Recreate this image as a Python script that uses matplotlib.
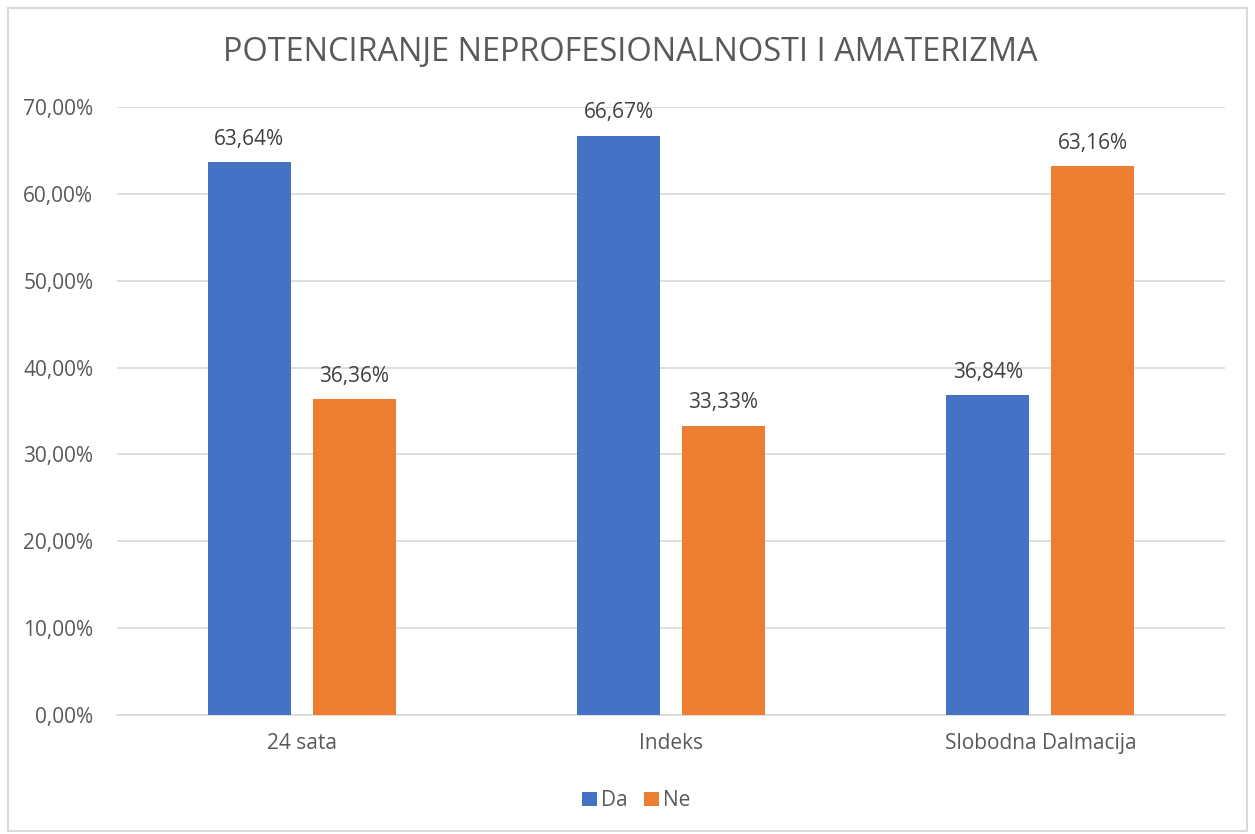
import matplotlib.pyplot as plt
import numpy as np

categories = ["24 sata", "Indeks", "Slobodna Dalmacija"]
da = [0.6364, 0.6667, 0.3684]
ne = [0.3636, 0.3333, 0.6316]
yticks = [0.0, 0.1, 0.2, 0.3, 0.4, 0.5, 0.6, 0.7]

plt.rcParams['font.family'] = ['Open Sans', 'DejaVu Sans']


def pct(v):
    return f"{v * 100:.2f}%".replace(".", ",")


fig = plt.figure(figsize=(12.55, 8.34), dpi=100)
ax = fig.add_axes([0.0932, 0.1427, 0.8829, 0.729])

x = np.arange(len(categories))
w = 0.225
off = 0.142
b1 = ax.bar(x - off, da, w, color="#4472c4", label="Da", zorder=3)
b2 = ax.bar(x + off, ne, w, color="#ed7d31", label="Ne", zorder=3)

for bars, vals in [(b1, da), (b2, ne)]:
    for bar, v in zip(bars, vals):
        ax.annotate(pct(v), (bar.get_x() + bar.get_width() / 2, v),
                    xytext=(0, 9), textcoords="offset points",
                    ha="center", va="bottom", fontsize=15, color="#404040")

ax.set_xlim(-0.5, 2.5)
ax.set_ylim(0, 0.7)
ax.set_yticks(yticks)
ax.set_yticklabels([pct(t) for t in yticks], fontsize=15, color="#595959")
ax.set_xticks(x)
ax.set_xticklabels(categories, fontsize=15, color="#595959")
ax.tick_params(axis="x", length=0, pad=13)
ax.tick_params(axis="y", length=0, pad=17)
ax.grid(axis="y", color="#d9d9d9", linewidth=1.2, zorder=0)
for s in ["top", "right", "left"]:
    ax.spines[s].set_visible(False)
ax.spines["bottom"].set_color("#d9d9d9")
ax.spines["bottom"].set_linewidth(1.2)

fig.text(0.502, 0.937, "POTENCIRANJE NEPROFESIONALNOSTI I AMATERIZMA",
         ha="center", va="center", fontsize=23.4, color="#595959")

fig.legend(loc="center", bbox_to_anchor=(0.507, 0.04), ncol=2, frameon=False,
           fontsize=15, labelcolor="#595959", handlelength=0.7,
           handleheight=0.7, handletextpad=0.2, columnspacing=0.8)

fig.patches.append(plt.Rectangle((0.006, 0.004), 0.988, 0.986, transform=fig.transFigure,
                                 fill=False, edgecolor="#d9d9d9", linewidth=1.5))

fig.savefig("out.png", dpi=100)
